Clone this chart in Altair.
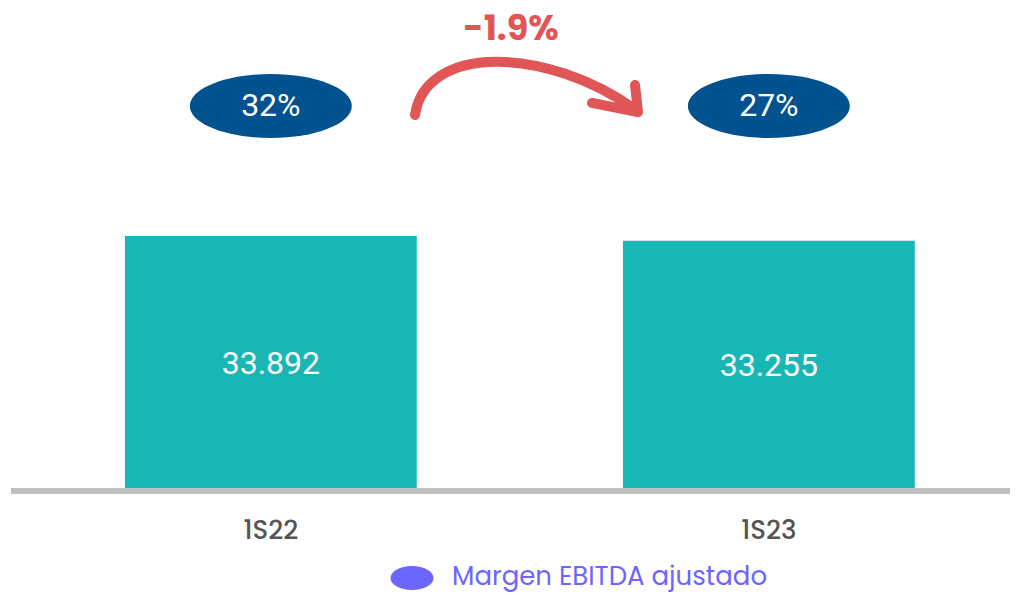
import altair as alt
import pandas as pd

periods = ["1S22", "1S23"]
ebitda = [33892, 33255]
ebitda_labels = ["33.892", "33.255"]
margins = ["32%", "27%"]
change_label = ["-1.9%"]
legend_label = ["Margen EBITDA ajustado"]

df = pd.DataFrame({"period": periods, "value": ebitda, "label": ebitda_labels, "margin": margins})

W, H = 1004, 483
FONT = "Poppins, Open Sans, sans-serif"
NUM_FONT = "Roboto, sans-serif"

ELLIPSE = ("M-1,0 C-1,-0.218 -0.552,-0.395 0,-0.395 C0.552,-0.395 1,-0.218 1,0 "
           "C1,0.218 0.552,0.395 0,0.395 C-0.552,0.395 -1,0.218 -1,0 Z")
LEG_ELLIPSE = ("M-1,0 C-1,-0.309 -0.552,-0.56 0,-0.56 C0.552,-0.56 1,-0.309 1,0 "
               "C1,0.309 0.552,0.56 0,0.56 C-0.552,0.56 -1,0.309 -1,0 Z")
ARROW = ("M-0.965,0.235 C-0.878,-0.374 0.165,-0.374 0.957,0.191 "
         "M0.948,-0.026 L0.974,0.209 L0.574,0.130")

xs = alt.X(
    "period:N", sort=periods,
    scale=alt.Scale(paddingInner=0.414, paddingOuter=0.215, align=0.546),
    axis=alt.Axis(title=None, labelAngle=0, domain=False, ticks=False, grid=False,
                  labelFontSize=26, labelFontWeight=500, labelColor="#555555",
                  labelFont=FONT, labelPadding=26),
)
yscale = alt.Scale(domain=[0, 64200])

base = alt.Chart(df)

bars = base.mark_bar(color="#19B6B6").encode(
    x=xs, y=alt.Y("value:Q", scale=yscale, axis=None)
)

bar_text = base.transform_calculate(mid="datum.value / 2").mark_text(
    color="white", fontSize=32, font=NUM_FONT
).encode(x=xs, y=alt.Y("mid:Q", scale=yscale, axis=None), text="label:N")

ellipses = base.mark_point(
    shape=ELLIPSE, size=26244, filled=True, color="#02528F", opacity=1
).encode(x=xs, y=alt.value(98))

ellipse_text = base.mark_text(color="white", fontSize=32, font=NUM_FONT).encode(
    x=xs, y=alt.value(98), text="margin:N"
)

chg = alt.Chart(pd.DataFrame({"label": change_label}))
arrow = chg.mark_point(
    shape=ARROW, size=52900, filled=False, stroke="#E05555", strokeWidth=10,
    strokeCap="round", strokeJoin="round", opacity=1
).encode(x=alt.value(518), y=alt.value(80))

chg_text = chg.mark_text(
    color="#E05555", fontSize=35, fontWeight="bold", font=FONT
).encode(x=alt.value(503), y=alt.value(21), text="label:N")

baseline = base.mark_rule(color="#C0C0C0", strokeWidth=6).encode(
    x=alt.value(3), x2=alt.value(1002), y=alt.value(H)
)

leg = alt.Chart(pd.DataFrame({"label": legend_label}))
leg_sym = leg.mark_point(
    shape=LEG_ELLIPSE, size=1849, filled=True, color="#6C66FF", opacity=1
).encode(x=alt.value(404), y=alt.value(570))
leg_text = leg.mark_text(
    color="#6C66FF", fontSize=26, font=FONT, align="left", baseline="middle"
).encode(x=alt.value(444), y=alt.value(569), text="label:N")

chart = alt.layer(
    bars, bar_text, baseline, ellipses, ellipse_text, arrow, chg_text, leg_sym, leg_text
).properties(
    width=W, height=H,
    padding={"left": 0, "top": 0, "right": 0, "bottom": 112},
    autosize=alt.AutoSizeParams(type="none"),
    background="white",
).configure_view(stroke=None)

chart.save("out.html", embed_options={"renderer": "svg", "actions": False})
